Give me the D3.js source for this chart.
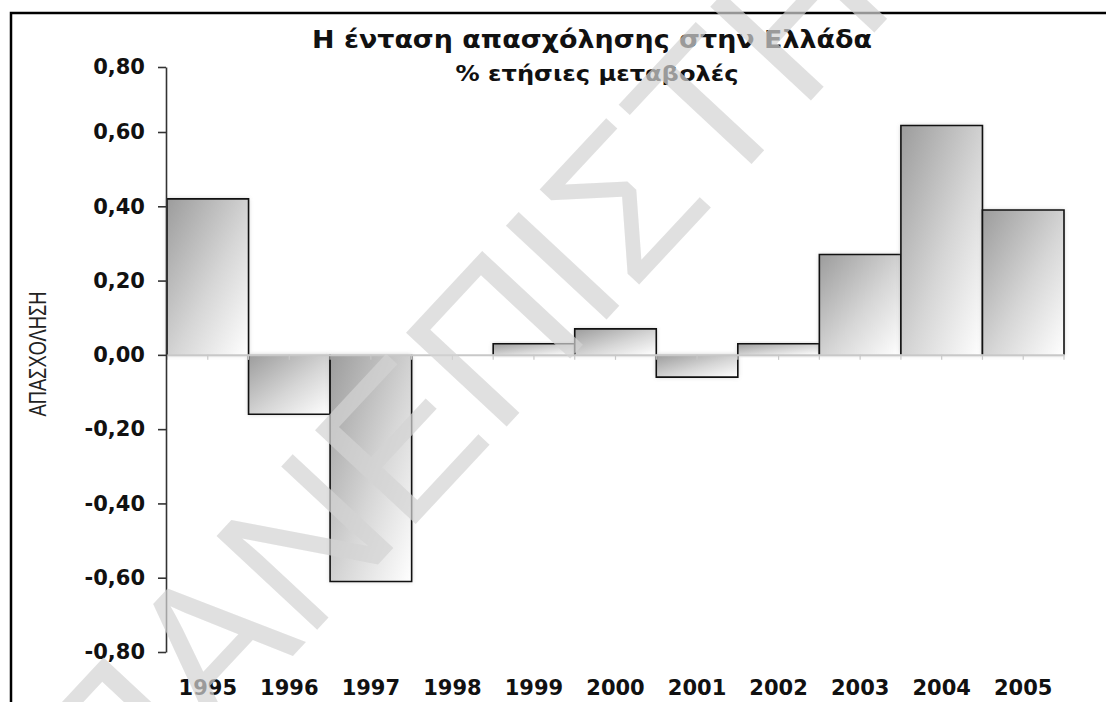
<!DOCTYPE html>
<html>
<head>
<meta charset="utf-8">
<script src="https://cdn.jsdelivr.net/npm/d3@7/dist/d3.min.js"></script>
<style>
  body { margin: 0; background: #fff; }
  svg { display: block; }
</style>
</head>
<body>
<svg class="chart"></svg>
<script>
// data
var years = ["1995", "1996", "1997", "1998", "1999", "2000", "2001", "2002", "2003", "2004", "2005"];
var values = [0.42, -0.16, -0.61, 0, 0.03, 0.07, -0.06, 0.03, 0.27, 0.62, 0.39];
var yTicks = [0.8, 0.6, 0.4, 0.2, 0, -0.2, -0.4, -0.6, -0.8];
var title = "Η ένταση απασχόλησης στην Ελλάδα";
var subtitle = "% ετήσιες μεταβολές";
var yLabel = "ΑΠΑΣΧΟΛΗΣΗ";
var watermark = "ΠΑΝΕΠΙΣΤΗΜΙΟ";

var W = 1106, H = 702;
var boldFont = "'DejaVu Sans', 'Liberation Sans', sans-serif";

var svg = d3.select(".chart")
    .attr("width", W)
    .attr("height", H);

var x = d3.scaleBand()
    .domain(years)
    .range([167, 1064])
    .padding(0);

// the original axis is slightly squeezed at the top
var y = d3.scaleLinear()
    .domain([-0.8, 0.6, 0.8])
    .range([652, 132, 67]);

var defs = svg.append("defs");

var grad = defs.append("linearGradient")
    .attr("id", "barfill")
    .attr("x1", 0).attr("y1", 0)
    .attr("x2", 1).attr("y2", 1);
grad.append("stop").attr("offset", "0%").attr("stop-color", "#9c9c9c");
grad.append("stop").attr("offset", "55%").attr("stop-color", "#d6d6d6");
grad.append("stop").attr("offset", "100%").attr("stop-color", "#ffffff");

var shadow = defs.append("filter")
    .attr("id", "shadow")
    .attr("x", "-20%").attr("y", "-20%")
    .attr("width", "140%").attr("height", "140%");
shadow.append("feGaussianBlur").attr("in", "SourceAlpha").attr("stdDeviation", 2).attr("result", "blur");
shadow.append("feFlood").attr("flood-color", "#888").attr("flood-opacity", 0.5);
shadow.append("feComposite").attr("in2", "blur").attr("operator", "in").attr("result", "sh");
var merge = shadow.append("feMerge");
merge.append("feMergeNode").attr("in", "sh");
merge.append("feMergeNode").attr("in", "SourceGraphic");

// frame, cut by the page edge on the right and bottom
svg.append("rect")
    .attr("x", 11).attr("y", 13)
    .attr("width", 1200).attr("height", 800)
    .attr("fill", "none")
    .attr("stroke", "#000")
    .attr("stroke-width", 2.5);

// titles
svg.append("text")
    .attr("x", 592).attr("y", 48)
    .attr("text-anchor", "middle")
    .attr("textLength", 560)
    .attr("lengthAdjust", "spacingAndGlyphs")
    .style("font", "bold 25px " + boldFont)
    .attr("fill", "#111")
    .text(title);

svg.append("text")
    .attr("x", 597).attr("y", 81)
    .attr("text-anchor", "middle")
    .attr("textLength", 283)
    .attr("lengthAdjust", "spacingAndGlyphs")
    .style("font", "bold 21px " + boldFont)
    .attr("fill", "#111")
    .text(subtitle);

// y label
svg.append("text")
    .attr("transform", "translate(46,354) rotate(-90)")
    .attr("text-anchor", "middle")
    .attr("textLength", 125)
    .attr("lengthAdjust", "spacingAndGlyphs")
    .style("font", "24px 'Liberation Sans', sans-serif")
    .attr("fill", "#222")
    .text(yLabel);

// bars
var bars = svg.selectAll(".bar")
    .data(years.map(function(d, i) { return {year: d, value: values[i]}; })
      .filter(function(d) { return d.value !== 0; }))
  .enter().append("g")
    .attr("class", "bar");

bars.append("rect")
    .attr("x", function(d) { return x(d.year); })
    .attr("y", function(d) { return Math.min(y(d.value), y(0)); })
    .attr("width", x.bandwidth())
    .attr("height", function(d) { return Math.abs(y(d.value) - y(0)); })
    .attr("fill", "url(#barfill)")
    .attr("filter", "url(#shadow)");

bars.append("path")
    .attr("d", function(d) {
      var x0 = x(d.year), x1 = x0 + x.bandwidth();
      return "M" + x0 + "," + y(0) + "V" + y(d.value) + "H" + x1 + "V" + y(0);
    })
    .attr("fill", "none")
    .attr("stroke", "#111")
    .attr("stroke-width", 1.6);

// zero line with small ticks at band centres and edges
var zero = svg.append("g")
    .attr("class", "x axis")
    .attr("transform", "translate(0," + y(0) + ")")
    .call(d3.axisBottom(x).tickSize(5).tickSizeOuter(0).tickFormat(""));
zero.select(".domain").attr("stroke", "#c8c8c8").attr("stroke-width", 2);
zero.selectAll(".tick line").attr("stroke", "#c8c8c8").attr("stroke-width", 1.2);

zero.selectAll(".edge")
    .data(years.concat(["end"]))
  .enter().append("line")
    .attr("class", "edge")
    .attr("x1", function(d) { return d === "end" ? x.range()[1] : x(d); })
    .attr("x2", function(d) { return d === "end" ? x.range()[1] : x(d); })
    .attr("y1", 0).attr("y2", 5)
    .attr("stroke", "#c8c8c8")
    .attr("stroke-width", 1.2);

// y axis
var yAxis = d3.axisLeft(y)
    .tickValues(yTicks)
    .tickSize(8)
    .tickSizeOuter(0)
    .tickPadding(13)
    .tickFormat(function(d) { return d3.format(".2f")(d).replace("−", "-").replace(".", ","); });

var ya = svg.append("g")
    .attr("class", "y axis")
    .attr("transform", "translate(166,0)")
    .call(yAxis);
ya.select(".domain").attr("stroke", "#333").attr("stroke-width", 1.6);
ya.selectAll(".tick line").attr("stroke", "#333").attr("stroke-width", 1.6);
ya.selectAll(".tick text")
    .style("font", "bold 21px " + boldFont)
    .attr("fill", "#111");

// year labels along the bottom
var xa = svg.append("g")
    .attr("class", "x labels")
    .attr("transform", "translate(0,695)")
    .call(d3.axisBottom(x).tickSize(0).tickPadding(0));
xa.select(".domain").remove();
xa.selectAll(".tick text")
    .attr("dy", 0)
    .style("font", "bold 21px " + boldFont)
    .attr("fill", "#111");

// watermark over everything
svg.append("text")
    .attr("transform", "translate(585,240) rotate(-47)")
    .attr("text-anchor", "middle")
    .attr("dy", "0.35em")
    .style("font", "200px 'Liberation Sans', sans-serif")
    .attr("fill", "#d4d4d4")
    .attr("opacity", 0.7)
    .text(watermark);
</script>
</body>
</html>
